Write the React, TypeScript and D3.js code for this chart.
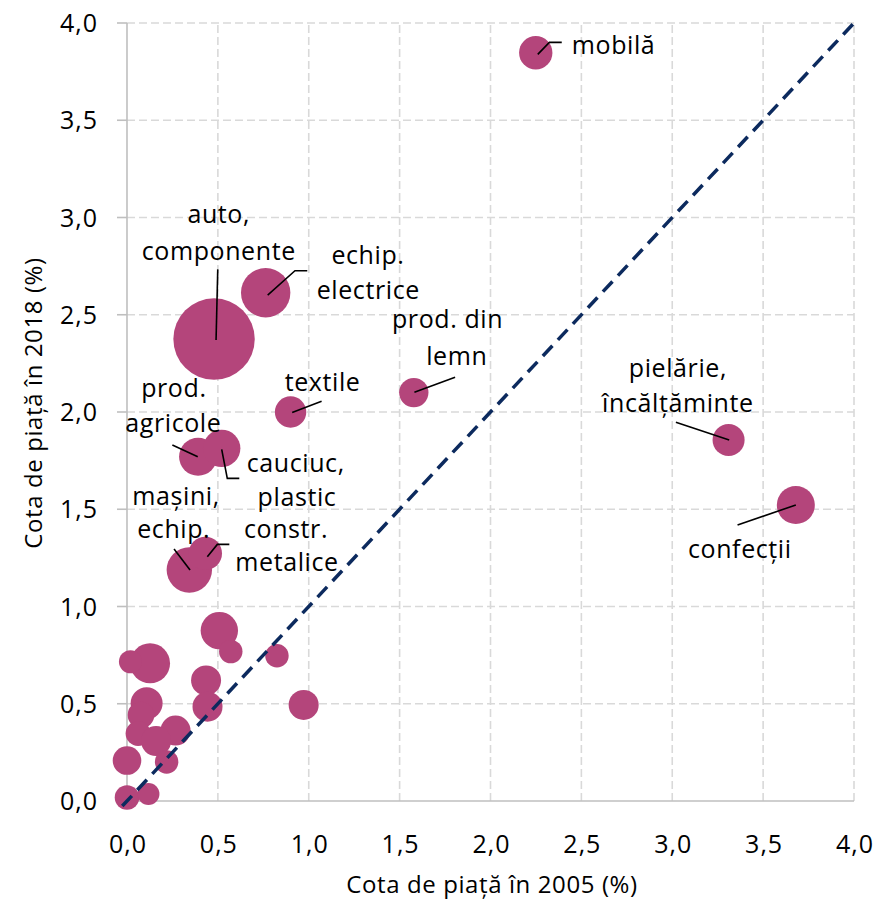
import React from "react";
import * as d3 from "d3";

// ---- data ----
const names: string[] = [
  "mobilă", "pielărie, încălțăminte", "confecții", "prod. din lemn", "textile",
  "echip. electrice", "auto, componente", "prod. agricole", "cauciuc, plastic",
  "mașini, echip.", "constr. metalice",
  "", "", "", "", "", "", "", "", "", "", "", "", "", "", "", "", "",
];
const share2005: number[] = [
  2.249, 3.31, 3.68, 1.578, 0.90, 0.763, 0.479, 0.391, 0.521, 0.343, 0.431,
  0.508, 0.571, 0.825, 0.127, 0.019, 0.435, 0.443, 0.972, 0.108, 0.077, 0.061,
  0.267, 0.16, 0.0, 0.218, 0.0, 0.118,
];
const share2018: number[] = [
  3.847, 1.856, 1.522, 2.10, 2.0, 2.613, 2.375, 1.77, 1.813, 1.188, 1.273,
  0.876, 0.768, 0.747, 0.708, 0.716, 0.62, 0.485, 0.494, 0.502, 0.442, 0.347,
  0.362, 0.308, 0.208, 0.201, 0.018, 0.036,
];
const bubbleSize: number[] = [
  16.8, 15.5, 21.8, 13.0, 14.9, 36.8, 100, 21.8, 21.1, 31.1, 16.8,
  21.1, 8.3, 8.3, 24.1, 8.0, 13.6, 13.6, 13.6, 15.5, 10.7, 9.4,
  13.6, 13.6, 12.3, 8.3, 9.1, 7.3,
];
const axisTicks: number[] = [0, 0.5, 1, 1.5, 2, 2.5, 3, 3.5, 4];

// ---- label annotation layout (offsets from bubble centre, px) ----
type LabelLine = { t: string; dx: number; dy: number };
type Annot = { idx: number; anchor: string; lines: LabelLine[]; leader: number[][] };
const annotations: Annot[] = [
  { idx: 0, anchor: "start", lines: [{ t: "mobilă", dx: 36, dy: 1 }], leader: [[2, 1.6], [13.6, -10.4], [26, -10.4]] },
  { idx: 1, anchor: "middle", lines: [{ t: "pielărie,", dx: -50.7, dy: -63 }, { t: "încălțăminte", dx: -50.7, dy: -28.3 }], leader: [[0.6, 0], [-52.7, -17.7]] },
  { idx: 2, anchor: "middle", lines: [{ t: "confecții", dx: -56, dy: 53.3 }], leader: [[0, 0], [-58.3, 20]] },
  { idx: 3, anchor: "middle", lines: [{ t: "prod. din", dx: 33.8, dy: -64.4 }, { t: "lemn", dx: 43, dy: -27.7 }], leader: [[0.6, -0.4], [41.3, -15.4]] },
  { idx: 4, anchor: "middle", lines: [{ t: "textile", dx: 32, dy: -20.7 }], leader: [[1.6, 0.6], [31, -10.7]] },
  { idx: 5, anchor: "middle", lines: [{ t: "echip.", dx: 102.3, dy: -28.7 }, { t: "electrice", dx: 102.6, dy: 6.3 }], leader: [[2, 2.3], [29.3, -22], [41.6, -22]] },
  { idx: 6, anchor: "middle", lines: [{ t: "auto,", dx: 4.7, dy: -116.5 }, { t: "componente", dx: 4.7, dy: -79.5 }], leader: [[3.7, -69.7], [2, 1]] },
  { idx: 7, anchor: "middle", lines: [{ t: "prod.", dx: -24.2, dy: -60 }, { t: "agricole", dx: -24.7, dy: -25 }], leader: [[-25.7, -11.7], [-0.3, 0]] },
  { idx: 8, anchor: "middle", lines: [{ t: "cauciuc,", dx: 74, dy: 23.4 }, { t: "plastic", dx: 75.3, dy: 57.7 }], leader: [[0, 1], [5.6, 30], [17.6, 30]] },
  { idx: 9, anchor: "middle", lines: [{ t: "mașini,", dx: -13.3, dy: -65 }, { t: "echip.", dx: -15.6, dy: -32 }], leader: [[-15.3, -21], [0.7, 0]] },
  { idx: 10, anchor: "middle", lines: [{ t: "constr.", dx: 80.7, dy: -15.6 }, { t: "metalice", dx: 81.7, dy: 17.7 }], leader: [[2, 3.4], [12, -9], [24, -9]] },
];

const W = 881;
const H = 904;
const FONT = "'Open Sans', 'Noto Sans', sans-serif";
const BUBBLE = "#b4457b";
const fmt = (v: number) => v.toFixed(1).replace(".", ",");

export default function App() {
  const x = d3.scaleLinear().domain([0, 4]).range([127, 854]);
  const y = d3.scaleLinear().domain([0, 4]).range([801, 23]);
  const r = d3.scaleSqrt().domain([0, 100]).range([0, 40.7]);
  const line = d3.line<number[]>().x((d) => d[0]).y((d) => d[1]);

  const points = share2005.map((v, i) => ({
    name: names[i], cx: x(v), cy: y(share2018[i]), r: r(bubbleSize[i]),
  }));

  return (
    <svg width={W} height={H} style={{ position: "absolute", left: 0, top: 0, background: "#fff" }} fontFamily={FONT}>
      <rect width={W} height={H} fill="#fff" />
      {/* gridlines */}
      {axisTicks.filter((t) => t > 0).map((t) => (
        <line key={"h" + t} x1={x(0)} x2={x(4)} y1={y(t)} y2={y(t)} stroke="#d9d9d9" strokeWidth={1.6} strokeDasharray="8,4" />
      ))}
      {axisTicks.filter((t) => t > 0).map((t) => (
        <line key={"v" + t} x1={x(t)} x2={x(t)} y1={y(0)} y2={y(4)} stroke="#d9d9d9" strokeWidth={1.6} strokeDasharray="8,4" />
      ))}
      {/* axes */}
      <line x1={x(0)} x2={x(4)} y1={y(0)} y2={y(0)} stroke="#bfbfbf" strokeWidth={1.6} />
      <line x1={x(0)} x2={x(0)} y1={y(0)} y2={y(4)} stroke="#bfbfbf" strokeWidth={1.6} />
      {axisTicks.map((t) => (
        <line key={"yt" + t} x1={x(0) - 10} x2={x(0)} y1={y(t)} y2={y(t)} stroke="#bfbfbf" strokeWidth={1.6} />
      ))}
      {axisTicks.map((t) => (
        <text key={"yl" + t} x={98} y={y(t) + 9} textAnchor="end" fontSize={25} fill="#000" letterSpacing={1}>{fmt(t)}</text>
      ))}
      {axisTicks.map((t) => (
        <text key={"xl" + t} x={x(t) + 1} y={853} textAnchor="middle" fontSize={25} fill="#000" letterSpacing={1}>{fmt(t)}</text>
      ))}
      {/* bubbles */}
      {points.map((p, i) => (
        <circle key={"b" + i} cx={p.cx} cy={p.cy} r={p.r} fill={BUBBLE} />
      ))}
      {/* diagonal */}
      <line x1={x(-0.026)} y1={y(-0.026)} x2={x(4)} y2={y(4)} stroke="#0c2a5e" strokeWidth={3.5} strokeDasharray="14,8" />
      {/* labels */}
      {annotations.map((a) => {
        const p = points[a.idx];
        return (
          <g key={"a" + a.idx}>
            <path d={line(a.leader.map((q) => [p.cx + q[0], p.cy + q[1]])) || ""} fill="none" stroke="#000" strokeWidth={1.6} />
            {a.lines.map((l, j) => (
              <text key={j} x={p.cx + l.dx} y={p.cy + l.dy} textAnchor={a.anchor} fontSize={25} fill="#000" letterSpacing={0.6}>{l.t}</text>
            ))}
          </g>
        );
      })}
      {/* axis titles */}
      <text x={492} y={893} textAnchor="middle" fontSize={24} fill="#000" letterSpacing={0.6}>Cota de piață în 2005 (%)</text>
      <text transform="translate(42,403) rotate(-90)" textAnchor="middle" fontSize={24} fill="#000" letterSpacing={0.6}>Cota de piață în 2018 (%)</text>
    </svg>
  );
}
